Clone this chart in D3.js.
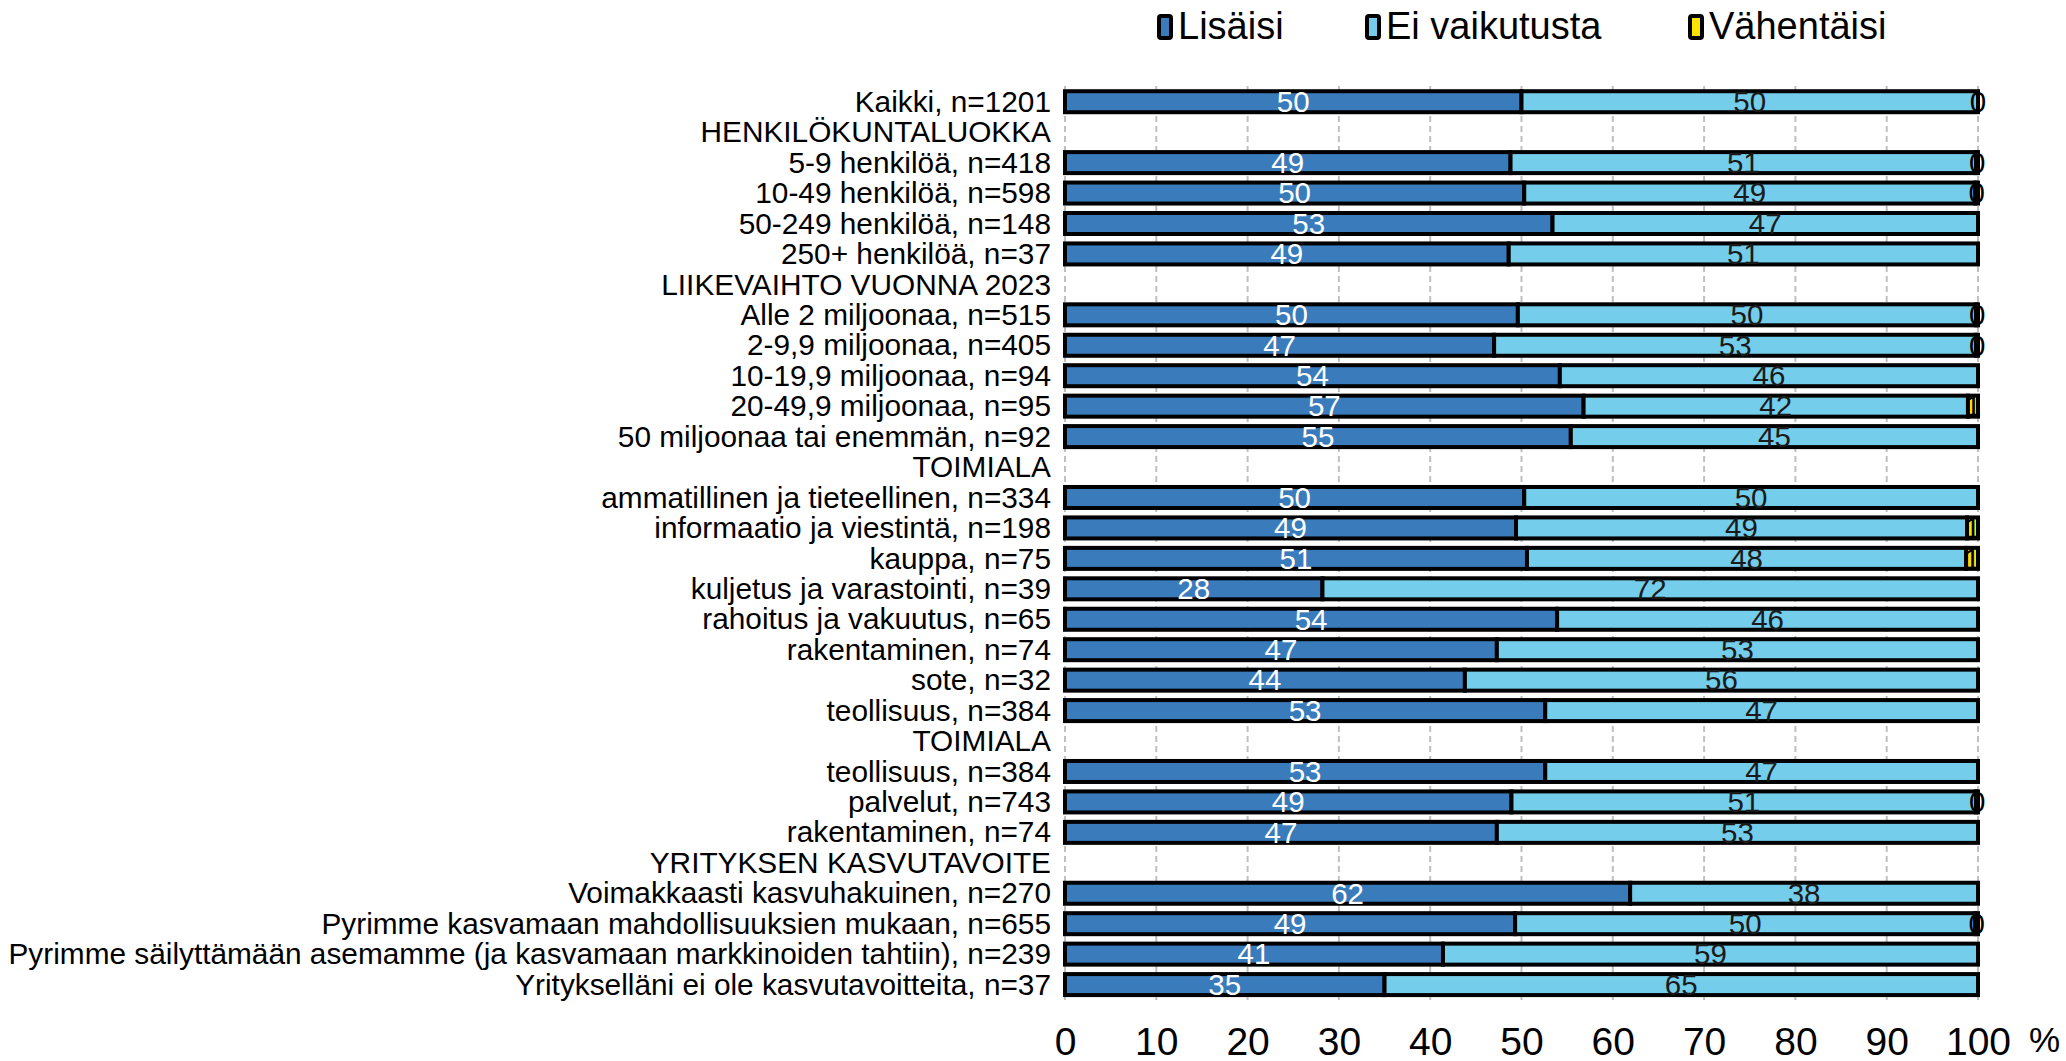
<!DOCTYPE html>
<meta charset="utf-8">
<style>
  body { margin: 0; background: #fff; }
  text { font-family: "Liberation Sans", Arial, sans-serif; }
</style>
<body>
<svg width="2066" height="1061"></svg>

<script src="https://cdn.jsdelivr.net/npm/d3@7"></script>
<script>

// Data
var categories = [
  "Kaikki, n=1201",
  "HENKILÖKUNTALUOKKA",
  "5-9 henkilöä, n=418",
  "10-49 henkilöä, n=598",
  "50-249 henkilöä, n=148",
  "250+ henkilöä, n=37",
  "LIIKEVAIHTO VUONNA 2023",
  "Alle 2 miljoonaa, n=515",
  "2-9,9 miljoonaa, n=405",
  "10-19,9 miljoonaa, n=94",
  "20-49,9 miljoonaa, n=95",
  "50 miljoonaa tai enemmän, n=92",
  "TOIMIALA",
  "ammatillinen ja tieteellinen, n=334",
  "informaatio ja viestintä, n=198",
  "kauppa, n=75",
  "kuljetus ja varastointi, n=39",
  "rahoitus ja vakuutus, n=65",
  "rakentaminen, n=74",
  "sote, n=32",
  "teollisuus, n=384",
  "TOIMIALA",
  "teollisuus, n=384",
  "palvelut, n=743",
  "rakentaminen, n=74",
  "YRITYKSEN KASVUTAVOITE",
  "Voimakkaasti kasvuhakuinen, n=270",
  "Pyrimme kasvamaan mahdollisuuksien mukaan, n=655",
  "Pyrimme säilyttämään asemamme (ja kasvamaan markkinoiden tahtiin), n=239",
  "Yritykselläni ei ole kasvutavoitteita, n=37"
];

var lisaisi = [50.0, null, 48.8, 50.3, 53.4, 48.6, null, 49.6, 47.0, 54.2, 56.8, 55.4,
  null, 50.3, 49.4, 50.6, 28.2, 53.9, 47.3, 43.8, 52.6, null, 52.6, 48.9, 47.3,
  null, 61.9, 49.3, 41.4, 35.0];

var eiVaikutusta = [50.0, null, 51.0, 49.4, 46.6, 51.4, null, 50.2, 52.8, 45.8, 42.1, 44.6,
  null, 49.7, 49.4, 48.1, 71.8, 46.1, 52.7, 56.2, 47.4, null, 47.4, 50.9, 52.7,
  null, 38.1, 50.4, 58.6, 65.0];

var vahentaisi = [0, null, 0.2, 0.3, null, null, null, 0.2, 0.2, null, 1.1, null,
  null, null, 1.2, 1.3, null, null, null, null, null, null, null, 0.2, null,
  null, null, 0.3, null, null];

var seriesNames = ["Lisäisi", "Ei vaikutusta", "Vähentäisi"];
var xTicks = [0, 10, 20, 30, 40, 50, 60, 70, 80, 90, 100];

var series = [lisaisi, eiVaikutusta, vahentaisi];
var colors = ["#3a7bbb", "#74cdea", "#ffe100"];
var labelColors = ["#ffffff", "#1a1a1a", "#000000"];

var svg = d3.select("svg");

var x = d3.scaleLinear().domain([0, 100]).range([1065, 1978]);
var y = d3.scaleBand()
    .domain(d3.range(categories.length))
    .range([86.5, 999.8])
    .paddingInner(0.31)
    .paddingOuter(0.155);

var fmt = d3.format(".0f");

// grid lines
svg.append("g")
  .selectAll("line")
  .data(xTicks)
  .enter().append("line")
    .attr("x1", function(d) { return x(d); })
    .attr("x2", function(d) { return x(d); })
    .attr("y1", 86)
    .attr("y2", 1000)
    .attr("stroke", "#c0c0c0")
    .attr("stroke-width", 2)
    .attr("stroke-dasharray", "6,4");

// build segments
var segs = [];
categories.forEach(function(c, i) {
  var acc = 0;
  series.forEach(function(s, k) {
    var v = s[i];
    if (v === null) return;
    segs.push({row: i, k: k, x0: acc, x1: acc + v, v: v});
    acc += v;
  });
});

svg.append("g")
  .selectAll("rect")
  .data(segs)
  .enter().append("rect")
    .attr("x", function(d) { return x(d.x0); })
    .attr("y", function(d) { return y(d.row); })
    .attr("width", function(d) { return x(d.x1) - x(d.x0); })
    .attr("height", y.bandwidth())
    .attr("fill", function(d) { return colors[d.k]; })
    .attr("stroke", "#000")
    .attr("stroke-width", 4);

svg.append("g")
  .selectAll("text")
  .data(segs)
  .enter().append("text")
    .attr("x", function(d) { return x((d.x0 + d.x1) / 2); })
    .attr("y", function(d) { return y(d.row) + y.bandwidth() / 2; })
    .attr("dy", "0.35em")
    .attr("text-anchor", "middle")
    .attr("font-size", 29.5)
    .attr("fill", function(d) { return labelColors[d.k]; })
    .text(function(d) { return fmt(d.v); });

// category labels
svg.append("g")
  .selectAll("text")
  .data(categories)
  .enter().append("text")
    .attr("x", 1051)
    .attr("y", function(d, i) { return y(i) + y.bandwidth() / 2; })
    .attr("dy", "0.34em")
    .attr("text-anchor", "end")
    .attr("font-size", 29.8)
    .attr("fill", "#000")
    .text(function(d) { return d; });

// x axis
var xAxis = d3.axisBottom(x).tickValues(xTicks).tickSize(0).tickPadding(27);
var ax = svg.append("g")
    .attr("transform", "translate(0,1000)")
    .call(xAxis);
ax.select(".domain").remove();
ax.selectAll("text")
    .attr("font-family", "Liberation Sans, Arial, sans-serif")
    .attr("font-size", 39)
    .attr("fill", "#000");

svg.append("text")
    .attr("x", 2029)
    .attr("y", 1052)
    .attr("font-size", 35)
    .attr("fill", "#000")
    .text("%");

// legend
var legendX = [1157, 1365, 1688];
var legend = svg.append("g")
  .selectAll("g")
  .data(seriesNames)
  .enter().append("g")
    .attr("transform", function(d, i) { return "translate(" + legendX[i] + ",0)"; });

legend.append("rect")
    .attr("x", 2)
    .attr("y", 16)
    .attr("width", 12)
    .attr("height", 22)
    .attr("rx", 2)
    .attr("fill", function(d, i) { return colors[i]; })
    .attr("stroke", "#000")
    .attr("stroke-width", 4);

legend.append("text")
    .attr("x", 21)
    .attr("y", 39)
    .attr("font-size", 38)
    .attr("fill", "#000")
    .text(function(d) { return d; });

</script>
</body>
